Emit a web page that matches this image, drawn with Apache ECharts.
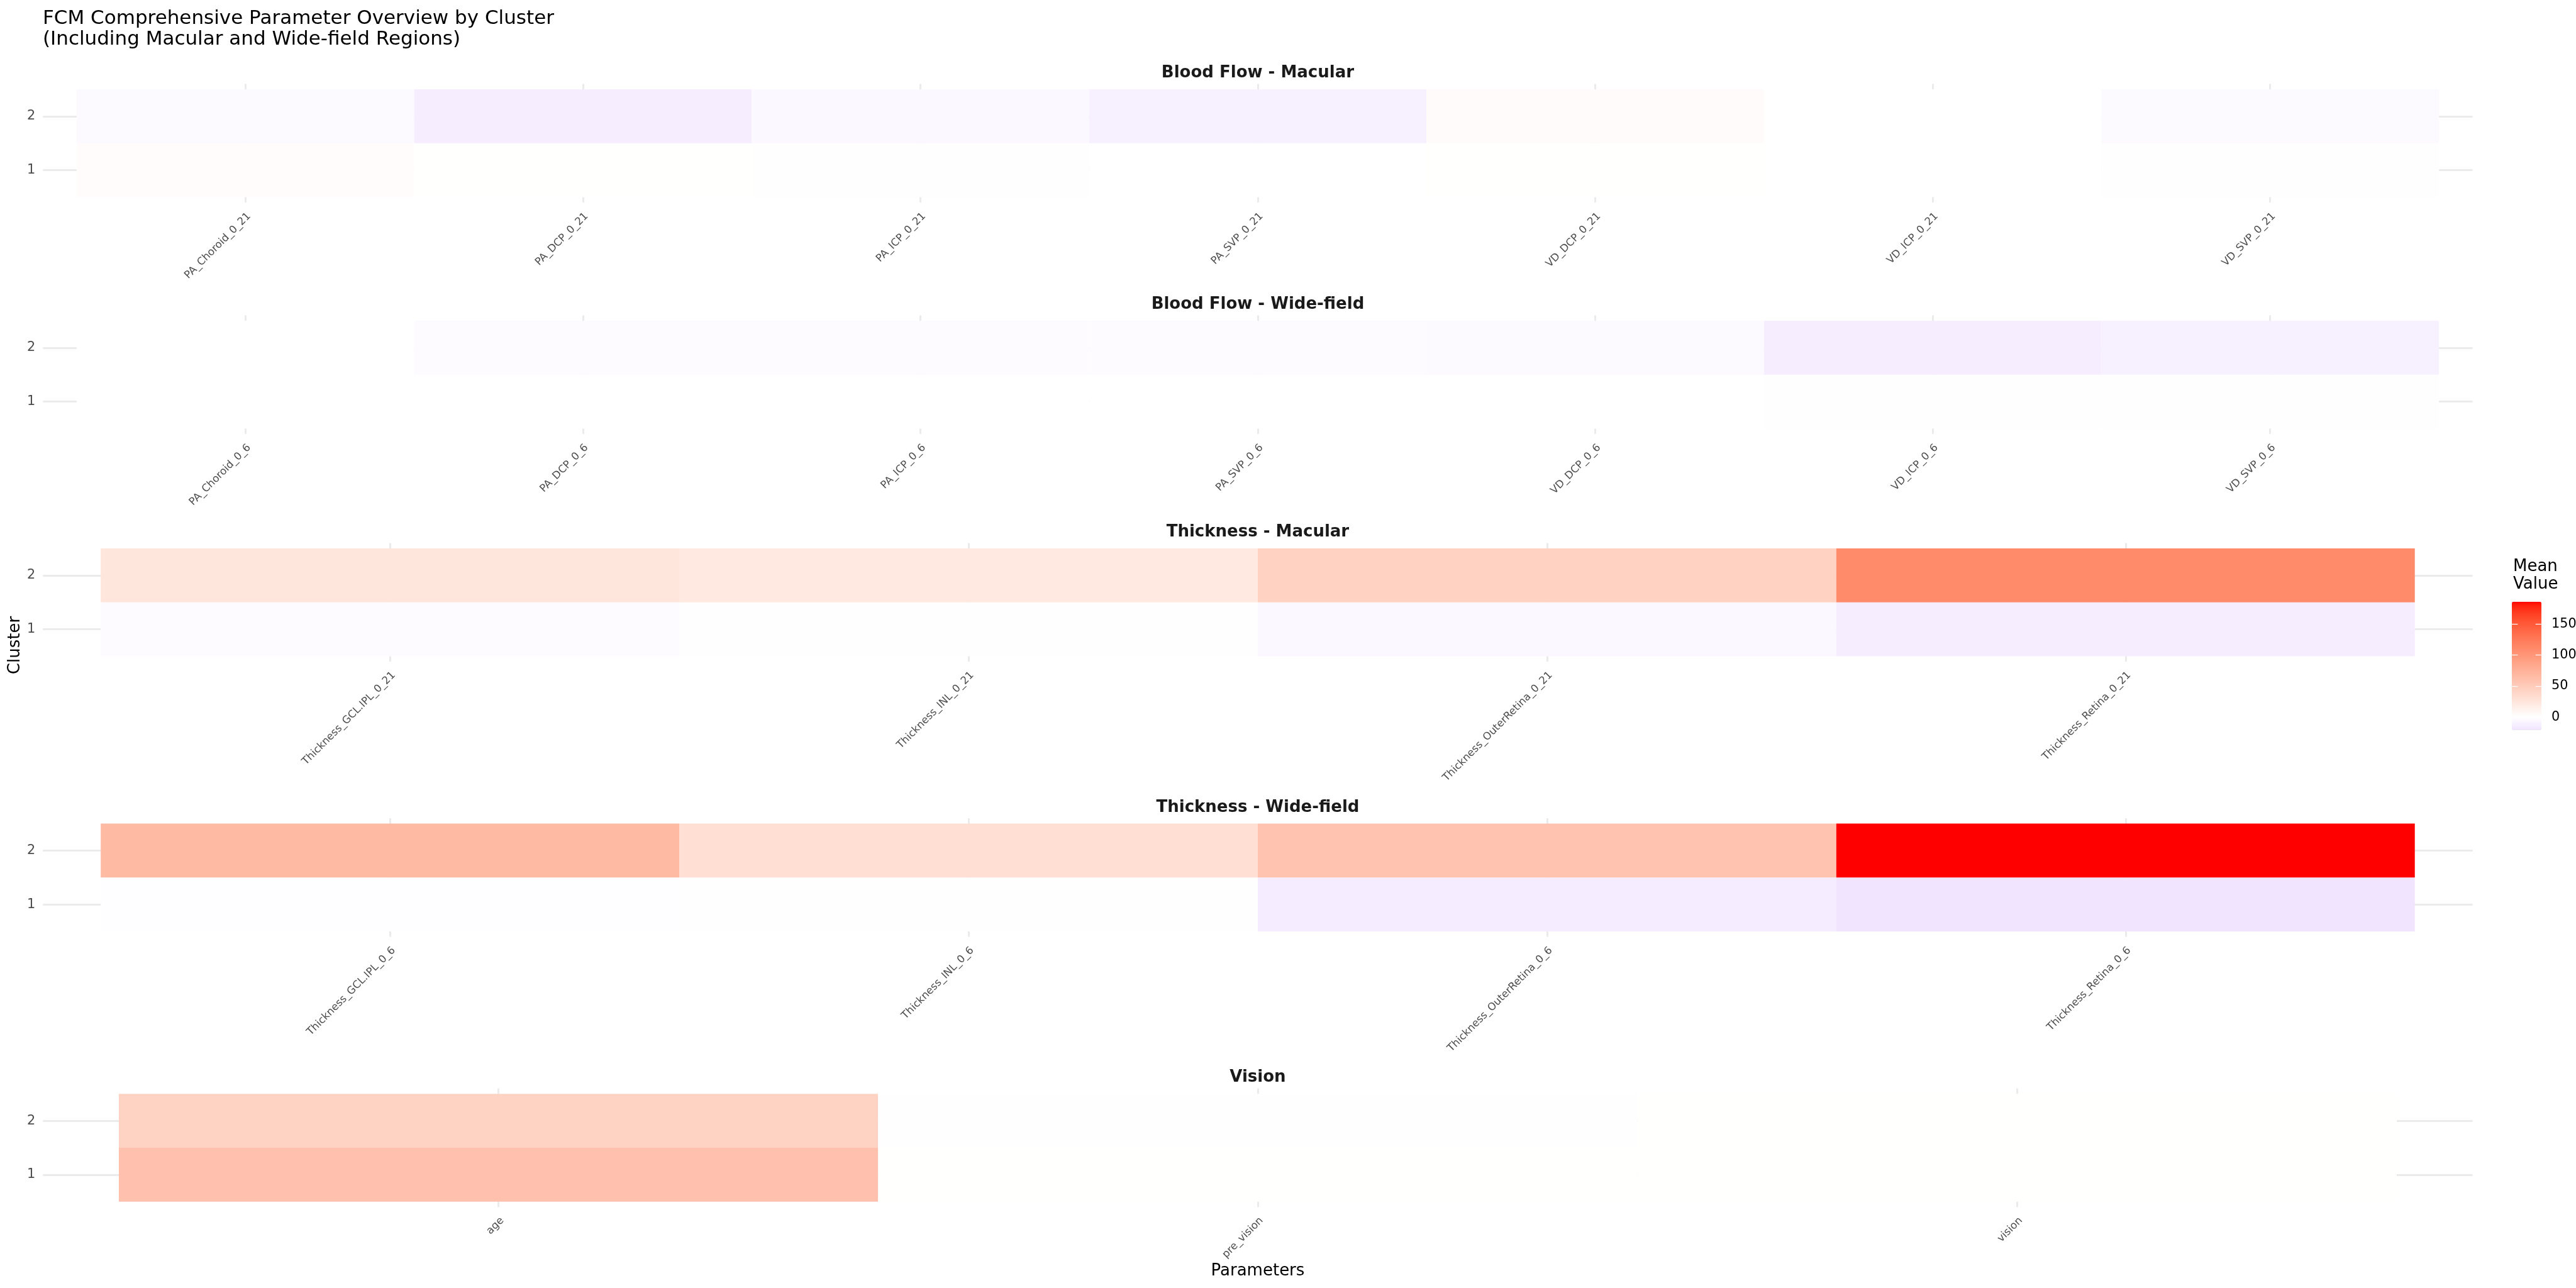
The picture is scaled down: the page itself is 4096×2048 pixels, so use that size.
<!DOCTYPE html>
<html>
<head>
<meta charset="utf-8">
<script src="https://cdn.jsdelivr.net/npm/echarts@6/dist/echarts.min.js"></script>
<style>
html, body { margin: 0; padding: 0; background: #ffffff; }
#chart { width: 4096px; height: 2048px; }
</style>
</head>
<body>
<div id="chart"></div>
<script>
// ---------------- DATA ----------------
const clusters = [1, 2];
const panelTitles = ['Blood Flow - Macular', 'Blood Flow - Wide-field', 'Thickness - Macular', 'Thickness - Wide-field', 'Vision'];

const bloodFlowMacularParams = ['PA_Choroid_0_21', 'PA_DCP_0_21', 'PA_ICP_0_21', 'PA_SVP_0_21', 'VD_DCP_0_21', 'VD_ICP_0_21', 'VD_SVP_0_21'];
const bloodFlowMacularCluster1 = [3.0, 0.2, -0.8, 0.1, 0.2, 0.1, -0.8];
const bloodFlowMacularCluster2 = [-4.5, -13.0, -6.0, -11.0, 3.5, 0.1, -4.0];

const bloodFlowWideParams = ['PA_Choroid_0_6', 'PA_DCP_0_6', 'PA_ICP_0_6', 'PA_SVP_0_6', 'VD_DCP_0_6', 'VD_ICP_0_6', 'VD_SVP_0_6'];
const bloodFlowWideCluster1 = [0.1, 0.1, 0.1, 0.1, 0.1, -0.6, -0.6];
const bloodFlowWideCluster2 = [0.1, -3.0, -2.5, -2.5, -3.5, -13.0, -11.0];

const thicknessMacularParams = ['Thickness_GCL.IPL_0_21', 'Thickness_INL_0_21', 'Thickness_OuterRetina_0_21', 'Thickness_Retina_0_21'];
const thicknessMacularCluster1 = [-2.5, -1.0, -5.5, -13.0];
const thicknessMacularCluster2 = [24, 21, 44, 110];

const thicknessWideParams = ['Thickness_GCL.IPL_0_6', 'Thickness_INL_0_6', 'Thickness_OuterRetina_0_6', 'Thickness_Retina_0_6'];
const thicknessWideCluster1 = [-1.2, -1.0, -14.0, -21.0];
const thicknessWideCluster2 = [67, 32, 58, 186];

const visionParams = ['age', 'pre_vision', 'vision'];
const visionCluster1 = [60, 0.4, 0.2];
const visionCluster2 = [43, 0.6, 0.3];

const legendTicks = [0, 50, 100, 150];

// ---------------- BUILD ----------------
const panels = [
  { title: panelTitles[0], params: bloodFlowMacularParams, c1: bloodFlowMacularCluster1, c2: bloodFlowMacularCluster2 },
  { title: panelTitles[1], params: bloodFlowWideParams, c1: bloodFlowWideCluster1, c2: bloodFlowWideCluster2 },
  { title: panelTitles[2], params: thicknessMacularParams, c1: thicknessMacularCluster1, c2: thicknessMacularCluster2 },
  { title: panelTitles[3], params: thicknessWideParams, c1: thicknessWideCluster1, c2: thicknessWideCluster2 },
  { title: panelTitles[4], params: visionParams, c1: visionCluster1, c2: visionCluster2 }
];

const FONT = 'DejaVu Sans';
const gridLeft = 68.2, gridWidth = 3863.5, panelHeight = 188.6;
const panelTops = [133.5, 501.5, 863.4, 1301, 1730.7];
const centerX = gridLeft + gridWidth / 2;

// colour scale: ggplot scale_fill_gradient2(low='blue', mid='white', high='red', midpoint=0), Lab interpolation
function toLin(c) { c /= 255; return c <= 0.04045 ? c / 12.92 : Math.pow((c + 0.055) / 1.055, 2.4); }
function toS(c) { c = c <= 0.0031308 ? 12.92 * c : 1.055 * Math.pow(c, 1 / 2.4) - 0.055; return Math.round(Math.max(0, Math.min(1, c)) * 255); }
function rgb2lab(r, g, b) {
  const R = toLin(r), G = toLin(g), B = toLin(b);
  const X = (0.4124 * R + 0.3576 * G + 0.1805 * B) / 0.95047;
  const Y = (0.2126 * R + 0.7152 * G + 0.0722 * B);
  const Z = (0.0193 * R + 0.1192 * G + 0.9505 * B) / 1.08883;
  const f = t => t > 0.008856 ? Math.cbrt(t) : 7.787 * t + 16 / 116;
  const fx = f(X), fy = f(Y), fz = f(Z);
  return [116 * fy - 16, 500 * (fx - fy), 200 * (fy - fz)];
}
function lab2hex(L, a, b) {
  const fy = (L + 16) / 116, fx = fy + a / 500, fz = fy - b / 200;
  const inv = t => { const t3 = t * t * t; return t3 > 0.008856 ? t3 : (t - 16 / 116) / 7.787; };
  const X = 0.95047 * inv(fx), Y = inv(fy), Z = 1.08883 * inv(fz);
  const R = 3.2406 * X - 1.5372 * Y - 0.4986 * Z;
  const G = -0.9689 * X + 1.8758 * Y + 0.0415 * Z;
  const B = 0.0557 * X - 0.2040 * Y + 1.0570 * Z;
  return 'rgb(' + toS(R) + ',' + toS(G) + ',' + toS(B) + ')';
}
const LAB_WHITE = rgb2lab(255, 255, 255), LAB_RED = rgb2lab(255, 0, 0), LAB_BLUE = rgb2lab(0, 0, 255);

const allValues = panels.flatMap(p => p.c1.concat(p.c2));
const vMin = Math.min.apply(null, allValues);
const vMax = Math.max.apply(null, allValues);
const vAbs = Math.max(Math.abs(vMin), Math.abs(vMax));
function colourFor(v) {
  const t = v / vAbs;
  const end = t >= 0 ? LAB_RED : LAB_BLUE;
  const k = Math.abs(t);
  return lab2hex(
    LAB_WHITE[0] + (end[0] - LAB_WHITE[0]) * k,
    LAB_WHITE[1] + (end[1] - LAB_WHITE[1]) * k,
    LAB_WHITE[2] + (end[2] - LAB_WHITE[2]) * k
  );
}
const nStops = 160;
const colourStops = [];
for (let i = 0; i < nStops; i++) colourStops.push(colourFor(vMin + (vMax - vMin) * i / (nStops - 1)));

const gridLineStyle = { color: '#EBEBEB', width: 3 };
const grids = [], xAxes = [], yAxes = [], series = [], graphics = [];

panels.forEach((p, i) => {
  const n = p.params.length;
  const idx = p.params.map((_, j) => j + 1);
  grids.push({ left: gridLeft, top: panelTops[i], width: gridWidth, height: panelHeight, containLabel: false, outerBoundsMode: 'none' });
  xAxes.push({
    gridIndex: i, type: 'value', min: 0.4, max: n + 0.6,
    axisLine: { show: false },
    axisTick: { show: false, customValues: idx },
    axisLabel: {
      customValues: idx, rotate: 45, align: 'right', verticalAlign: 'top', margin: 13,
      fontFamily: FONT, fontSize: 16.6, color: '#4D4D4D',
      formatter: v => p.params[Math.round(v) - 1]
    },
    splitLine: { show: true, lineStyle: gridLineStyle }
  });
  yAxes.push({
    gridIndex: i, type: 'value', min: 0.4, max: 2.6,
    axisLine: { show: false },
    axisTick: { show: false, customValues: clusters },
    axisLabel: { customValues: clusters, margin: 12, fontFamily: FONT, fontSize: 20.8, color: '#4D4D4D' },
    splitLine: { show: true, lineStyle: gridLineStyle }
  });
  const data = [];
  p.params.forEach((name, j) => {
    data.push([j + 1, clusters[0], p.c1[j]]);
    data.push([j + 1, clusters[1], p.c2[j]]);
  });
  series.push({
    type: 'custom', xAxisIndex: i, yAxisIndex: i,
    encode: { x: 0, y: 1 },
    data: data,
    renderItem: function (params, api) {
      const x = api.value(0), y = api.value(1);
      const a = api.coord([x - 0.5, y + 0.5]);
      const b = api.coord([x + 0.5, y - 0.5]);
      return {
        type: 'rect',
        shape: { x: a[0], y: a[1], width: b[0] - a[0], height: b[1] - a[1] },
        style: { fill: api.visual('color'), stroke: null }
      };
    }
  });
  graphics.push({
    type: 'text', x: centerX, y: panelTops[i] - 17,
    style: { text: p.title, textAlign: 'center', textVerticalAlign: 'middle', font: 'bold 26px "' + FONT + '"', fill: '#1A1A1A' }
  });
});

// colour bar axes (legend ticks/labels)
const barLeft = 3994, barTop = 956.8, barW = 47, barH = 204;
grids.push({ left: barLeft, top: barTop, width: barW, height: barH, containLabel: false, outerBoundsMode: 'none' });
xAxes.push({ gridIndex: 5, type: 'value', min: 0, max: 1, show: false });
yAxes.push({
  gridIndex: 5, type: 'value', position: 'left', min: vMin, max: vMax, z: 10,
  axisLine: { show: false },
  axisTick: { show: true, inside: true, length: barW / 5, customValues: legendTicks, lineStyle: { color: '#ffffff', width: 1.2 } },
  axisLabel: { show: false, customValues: legendTicks },
  splitLine: { show: false }
});
yAxes.push({
  gridIndex: 5, type: 'value', position: 'right', min: vMin, max: vMax, z: 10,
  axisLine: { show: false },
  axisTick: { show: true, inside: true, length: barW / 5, customValues: legendTicks, lineStyle: { color: '#ffffff', width: 1.2 } },
  axisLabel: { show: true, customValues: legendTicks, margin: 16, fontFamily: FONT, fontSize: 20.8, color: '#000000' },
  splitLine: { show: false }
});

graphics.push({
  type: 'text', left: 68, top: 13,
  style: { text: 'FCM Comprehensive Parameter Overview by Cluster\n(Including Macular and Wide-field Regions)', font: '31px "' + FONT + '"', lineHeight: 33, fill: '#000000' }
});
graphics.push({
  type: 'text', x: 24, y: 1026, rotation: Math.PI / 2,
  style: { text: 'Cluster', textAlign: 'center', textVerticalAlign: 'middle', font: '26px "' + FONT + '"', fill: '#000000' }
});
graphics.push({
  type: 'text', x: centerX, y: 2021,
  style: { text: 'Parameters', textAlign: 'center', textVerticalAlign: 'middle', font: '26px "' + FONT + '"', fill: '#000000' }
});
graphics.push({
  type: 'text', x: 3996, y: 887,
  style: { text: 'Mean\nValue', textAlign: 'left', textVerticalAlign: 'top', font: '26px "' + FONT + '"', lineHeight: 28.4, fill: '#000000' }
});

const chart = echarts.init(document.getElementById('chart'), null, { renderer: 'canvas' });
chart.setOption({
  backgroundColor: '#ffffff',
  animation: false,
  textStyle: { fontFamily: FONT },
  grid: grids,
  xAxis: xAxes,
  yAxis: yAxes,
  visualMap: {
    type: 'continuous', min: vMin, max: vMax, dimension: 2,
    seriesIndex: [0, 1, 2, 3, 4],
    calculable: false, hoverLink: false,
    orient: 'vertical', left: barLeft, top: barTop, padding: 0,
    itemWidth: barW, itemHeight: barH,
    inRange: { color: colourStops }
  },
  series: series,
  graphic: graphics
});
</script>
</body>
</html>
